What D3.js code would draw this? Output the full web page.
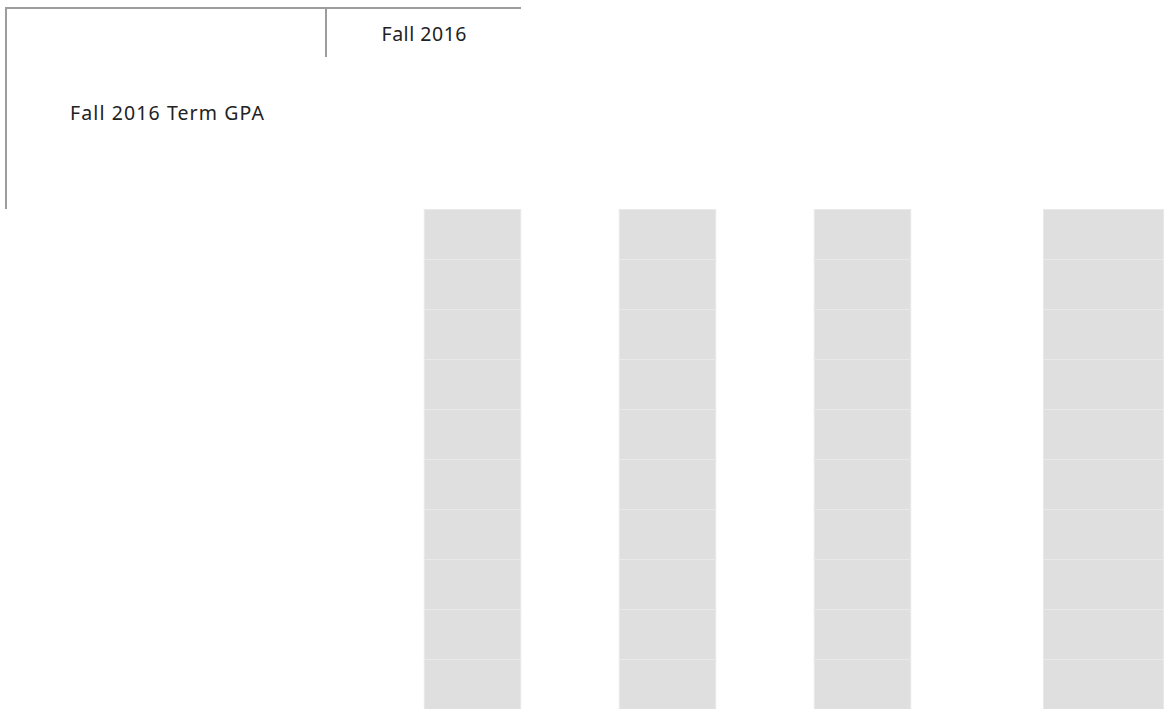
<!DOCTYPE html>
<html lang="en">
<head>
<meta charset="utf-8">
<title>Fall 2016 Term GPA</title>
<script src="https://cdn.jsdelivr.net/npm/d3@7"></script>
<style>
  html, body { margin: 0; padding: 0; background: #fff; }
  svg { display: block; }
  text { font-family: "Noto Sans", sans-serif; fill: #222; }
</style>
</head>
<body>
<script>
// header texts
var termLabel = "Fall 2016";
var measureLabel = "Fall 2016 Term GPA";

// columns (no visible labels in the view) and the stacked cells of each bar
var columns = ["c1", "c2", "c3"];
var totalColumn = ["Grand Total"];
var cellValues = {
  "c1": [1, 1, 1, 1, 1, 1, 1, 1, 1, 1],
  "c2": [1, 1, 1, 1, 1, 1, 1, 1, 1, 1],
  "c3": [1, 1, 1, 1, 1, 1, 1, 1, 1, 1],
  "Grand Total": [1, 1, 1, 1, 1, 1, 1, 1, 1, 1]
};

var width = 1164, height = 709;
var barTop = 209;

var svg = d3.select("body").append("svg")
  .attr("width", width)
  .attr("height", height);

var xscale = d3.scaleBand()
  .domain(columns)
  .range([375, 960])
  .paddingInner(0.5)
  .paddingOuter(0.25);

var xtotal = d3.scaleBand()
  .domain(totalColumn)
  .range([1043, 1164])
  .padding(0);

var yscale = d3.scaleLinear()
  .domain([0, 10])
  .range([barTop, height]);

function stackOf(key) {
  var acc = 0;
  return cellValues[key].map(function(v) {
    var d = {key: key, y0: acc, y1: acc + v};
    acc += v;
    return d;
  });
}

function drawBars(scale, keys) {
  var g = svg.append("g");
  keys.forEach(function(key) {
    g.selectAll("rect.k" + key.replace(/\W/g, ""))
      .data(stackOf(key))
      .enter()
      .append("rect")
      .attr("x", scale(key) + 0.5)
      .attr("width", scale.bandwidth() - 1)
      .attr("y", function(d) { return yscale(d.y0) + 0.5; })
      .attr("height", function(d) { return yscale(d.y1) - yscale(d.y0); })
      .style("fill", "#dfdfdf")
      .style("stroke", "#e9e9e9")
      .style("stroke-width", 1);
  });
}

drawBars(xscale, columns);
drawBars(xtotal, totalColumn);

// header frame lines
var lineColor = "#9d9d9d";
svg.append("line")
  .attr("x1", 5).attr("x2", 521)
  .attr("y1", 8).attr("y2", 8)
  .style("stroke", lineColor).style("stroke-width", 2);
svg.append("line")
  .attr("x1", 6).attr("x2", 6)
  .attr("y1", 7).attr("y2", barTop)
  .style("stroke", lineColor).style("stroke-width", 2);
svg.append("line")
  .attr("x1", 326).attr("x2", 326)
  .attr("y1", 8).attr("y2", 57)
  .style("stroke", lineColor).style("stroke-width", 2);

svg.append("text")
  .attr("x", 424)
  .attr("y", 41)
  .attr("text-anchor", "middle")
  .attr("font-size", "19.5px")
  .attr("textLength", 85)
  .attr("lengthAdjust", "spacing")
  .text(termLabel);

svg.append("text")
  .attr("x", 70)
  .attr("y", 120)
  .attr("font-size", "19.5px")
  .attr("textLength", 194)
  .attr("lengthAdjust", "spacing")
  .text(measureLabel);
</script>
</body>
</html>
